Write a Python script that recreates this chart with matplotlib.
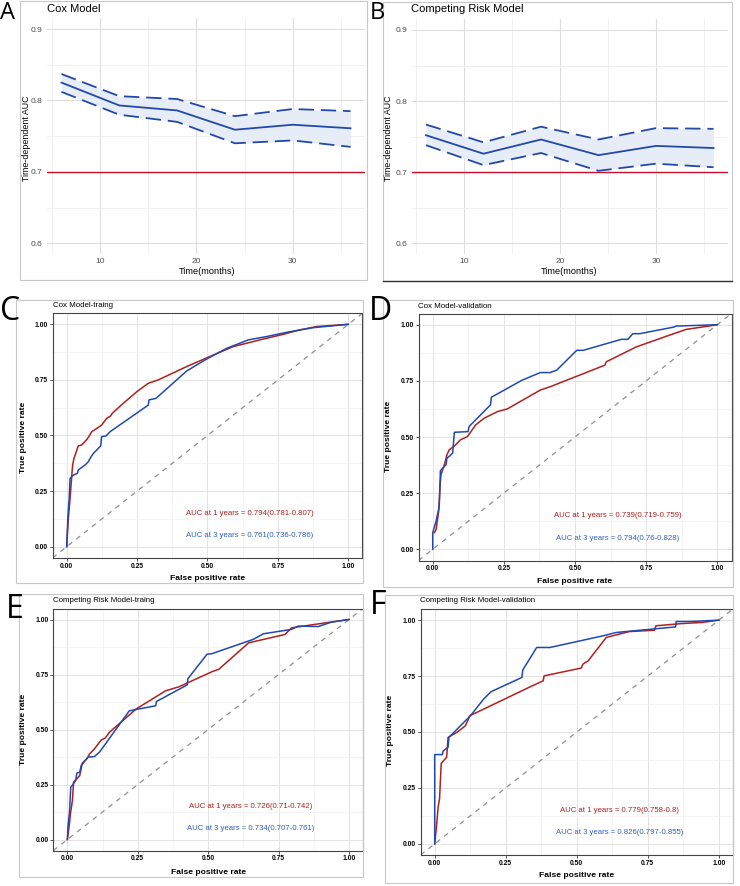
import matplotlib
matplotlib.use("Agg")
import matplotlib.pyplot as plt
from matplotlib.patches import Rectangle
from matplotlib.ticker import MultipleLocator

plt.rcParams['font.family'] = ['Liberation Sans', 'DejaVu Sans']

W, H = 740, 886

# time-dependent AUC (panels A, B)
months = [6, 12, 18, 24, 30, 36]
cox_auc = [0.825, 0.793, 0.786, 0.759, 0.766, 0.761]
cox_hi = [0.837, 0.806, 0.802, 0.778, 0.788, 0.785]
cox_lo = [0.812, 0.780, 0.770, 0.740, 0.744, 0.735]
crm_auc = [0.752, 0.726, 0.746, 0.724, 0.737, 0.734]
crm_hi = [0.767, 0.742, 0.764, 0.746, 0.762, 0.761]
crm_lo = [0.738, 0.710, 0.727, 0.702, 0.712, 0.707]

# ROC curves (panels C-F), 1 year (red) and 3 years (blue)
c1_fpr = [0, 0.006, 0.014, 0.021, 0.026, 0.041, 0.053, 0.073, 0.089, 0.107, 0.124, 0.142, 0.156, 0.162,
          0.201, 0.249, 0.29, 0.325, 0.426, 0.521, 0.592, 0.686, 0.769, 0.828, 0.888, 1]
c1_tpr = [0, 0.127, 0.25, 0.367, 0.397, 0.453, 0.457, 0.484, 0.517, 0.532, 0.547, 0.577, 0.588, 0.6,
          0.645, 0.697, 0.735, 0.75, 0.81, 0.862, 0.9, 0.93, 0.955, 0.975, 0.99, 1]
c3_fpr = [0, 0.004, 0.009, 0.012, 0.024, 0.038, 0.041, 0.065, 0.077, 0.083, 0.095, 0.107, 0.121, 0.124,
          0.14, 0.154, 0.29, 0.292, 0.317, 0.426, 0.497, 0.568, 0.645, 0.71, 0.781, 0.876, 1]
c3_tpr = [0, 0.127, 0.217, 0.307, 0.322, 0.33, 0.345, 0.367, 0.382, 0.397, 0.42, 0.435, 0.454, 0.495,
          0.498, 0.517, 0.637, 0.66, 0.667, 0.79, 0.844, 0.892, 0.93, 0.945, 0.964, 0.985, 1]

d1_fpr = [0.006, 0.012, 0.021, 0.026, 0.029, 0.041, 0.05, 0.058, 0.078, 0.097, 0.122, 0.134, 0.151, 0.18,
          0.227, 0.262, 0.378, 0.413, 0.605, 0.61, 0.715, 0.831, 0.89, 0.948, 1]
d1_tpr = [0.074, 0.089, 0.17, 0.288, 0.332, 0.377, 0.421, 0.443, 0.462, 0.487, 0.502, 0.524, 0.554, 0.583,
          0.613, 0.625, 0.709, 0.724, 0.82, 0.835, 0.901, 0.953, 0.979, 0.99, 1]
d3_fpr = [0, 0, 0.012, 0.023, 0.027, 0.047, 0.05, 0.058, 0.07, 0.076, 0.124, 0.128, 0.203, 0.206, 0.314,
          0.378, 0.413, 0.436, 0.506, 0.529, 0.663, 0.686, 0.703, 0.727, 0.849, 0.855, 1]
d3_tpr = [0, 0.074, 0.126, 0.192, 0.35, 0.377, 0.406, 0.414, 0.428, 0.521, 0.524, 0.547, 0.643, 0.677,
          0.753, 0.787, 0.787, 0.798, 0.886, 0.886, 0.935, 0.935, 0.96, 0.96, 0.99, 0.994, 1]

e1_fpr = [0, 0.006, 0.011, 0.018, 0.022, 0.034, 0.044, 0.053, 0.069, 0.079, 0.096, 0.12, 0.135, 0.149,
          0.244, 0.349, 0.396, 0.514, 0.538, 0.644, 0.773, 0.796, 0.891, 1]
e1_tpr = [0, 0.057, 0.118, 0.178, 0.261, 0.276, 0.291, 0.347, 0.367, 0.389, 0.412, 0.452, 0.462, 0.487,
          0.593, 0.676, 0.694, 0.763, 0.774, 0.894, 0.932, 0.962, 0.98, 1]
e3_fpr = [0, 0.002, 0.008, 0.012, 0.02, 0.029, 0.034, 0.044, 0.049, 0.073, 0.096, 0.114, 0.22, 0.314,
          0.316, 0.426, 0.428, 0.496, 0.514, 0.661, 0.696, 0.796, 0.82, 0.891, 0.938, 1]
e3_tpr = [0, 0.057, 0.133, 0.238, 0.25, 0.268, 0.302, 0.306, 0.336, 0.374, 0.377, 0.397, 0.585, 0.608,
          0.627, 0.703, 0.731, 0.842, 0.845, 0.91, 0.935, 0.955, 0.97, 0.968, 0.988, 1]

f1_fpr = [0, 0.006, 0.012, 0.017, 0.023, 0.042, 0.047, 0.079, 0.108, 0.124, 0.336, 0.382, 0.385, 0.516,
          0.522, 0.54, 0.604, 0.685, 0.773, 0.779, 0.872, 0.942, 1]
f1_tpr = [0, 0.074, 0.164, 0.201, 0.36, 0.387, 0.476, 0.499, 0.528, 0.573, 0.702, 0.729, 0.751, 0.786,
          0.804, 0.818, 0.923, 0.949, 0.955, 0.975, 0.985, 0.99, 1]
f3_fpr = [0, 0, 0.027, 0.029, 0.047, 0.05, 0.126, 0.172, 0.198, 0.307, 0.31, 0.359, 0.406, 0.592, 0.639,
          0.848, 0.85, 0.895, 1]
f3_tpr = [0, 0.399, 0.399, 0.414, 0.432, 0.476, 0.573, 0.647, 0.68, 0.744, 0.777, 0.878, 0.878, 0.93,
          0.945, 0.97, 0.994, 0.994, 1]

auc_text = {
    'C': ["AUC at 1 years = 0.794(0.781-0.807)", "AUC at 3 years = 0.761(0.736-0.786)"],
    'D': ["AUC at 1 years = 0.739(0.719-0.759)", "AUC at 3 years = 0.794(0.76-0.828)"],
    'E': ["AUC at 1 years = 0.726(0.71-0.742)", "AUC at 3 years = 0.734(0.707-0.761)"],
    'F': ["AUC at 1 years = 0.779(0.758-0.8)", "AUC at 3 years = 0.826(0.797-0.855)"],
}

RED = '#b0201e'
BLUE = '#1f49b0'
LINE_BLUE = '#2348a8'

fig = plt.figure(figsize=(W / 100, H / 100), dpi=100)


def rect(x0, y0, x1, y1):
    return [x0 / W, 1 - y1 / H, (x1 - x0) / W, (y1 - y0) / H]


def ftext(x, y, s, **kw):
    fig.text(x / W, 1 - y / H, s, **kw)


def box(x0, y0, x1, y1, color='#c8c8c8', lw=0.8):
    fig.add_artist(Rectangle((x0 / W, 1 - y1 / H), (x1 - x0) / W, (y1 - y0) / H,
                             transform=fig.transFigure, fill=False, ec=color, lw=lw))


def auc_panel(r, t, auc, lo, hi):
    ax = fig.add_axes(r)
    ax.fill_between(t, lo, hi, color='#e7edf7', lw=0)
    ax.plot(t, auc, color=LINE_BLUE, lw=1.3)
    ax.plot(t, lo, color=LINE_BLUE, lw=1.3, ls=(0, (8.5, 3.8)))
    ax.plot(t, hi, color=LINE_BLUE, lw=1.3, ls=(0, (8.5, 3.8)))
    ax.axhline(0.7, color='#c8102e', lw=1.0)
    ax.set_xlim(4.5, 37.5)
    ax.set_ylim(0.585, 0.915)
    ax.xaxis.set_major_locator(MultipleLocator(10))
    ax.xaxis.set_minor_locator(MultipleLocator(5))
    ax.yaxis.set_major_locator(MultipleLocator(0.1))
    ax.yaxis.set_minor_locator(MultipleLocator(0.05))
    ax.grid(which='major', color='#dedede', lw=0.8)
    ax.grid(which='minor', color='#eeeeee', lw=0.6)
    ax.set_axisbelow(True)
    for s in ax.spines.values():
        s.set_visible(False)
    ax.tick_params(which='both', length=0, labelsize=6, labelcolor='#4d4d4d', pad=3)
    ax.set_xticks([10, 20, 30])
    ax.set_yticks([0.6, 0.7, 0.8, 0.9])
    ax.set_yticklabels(['0.6', '0.7', '0.8', '0.9'])
    return ax


def roc_panel(r, f1, t1, f3, t3, texts):
    ax = fig.add_axes(r)
    ax.plot([-0.05, 1.05], [-0.05, 1.05], color='#8f8f8f', lw=0.9, ls=(0, (4, 4)))
    ax.plot(f1, t1, color=RED, lw=1.1)
    ax.plot(f3, t3, color=BLUE, lw=1.1)
    ax.set_xlim(-0.05, 1.05)
    ax.set_ylim(-0.05, 1.05)
    ticks = [0, 0.25, 0.5, 0.75, 1.0]
    labs = ['0.00', '0.25', '0.50', '0.75', '1.00']
    ax.set_xticks(ticks)
    ax.set_xticklabels(labs)
    ax.set_yticks(ticks)
    ax.set_yticklabels(labs)
    ax.xaxis.set_minor_locator(MultipleLocator(0.125))
    ax.yaxis.set_minor_locator(MultipleLocator(0.125))
    ax.grid(which='major', color='#e3e3e3', lw=0.7)
    ax.grid(which='minor', color='#f1f1f1', lw=0.5)
    ax.set_axisbelow(True)
    for s in ax.spines.values():
        s.set_color('#444444')
        s.set_linewidth(0.8)
    ax.tick_params(which='major', length=2, width=0.6, color='#333333', labelsize=4.9, pad=1.5)
    ax.tick_params(which='minor', length=0)
    for lab in ax.get_xticklabels() + ax.get_yticklabels():
        lab.set_fontweight('bold')
    ax.text(0.65, 0.15, texts[0], color=RED, fontsize=5.6, ha='center', va='center')
    ax.text(0.65, 0.05, texts[1], color='#2f5fc8', fontsize=5.6, ha='center', va='center')
    return ax


# outer frames
box(20, 1, 367, 280)
box(383, 2, 732, 281)
fig.add_artist(plt.Line2D([383 / W, 732 / W], [1 - 281 / H, 1 - 281 / H],
                          transform=fig.transFigure, color='#333333', lw=1.0))
box(16, 300, 363, 583)
box(383, 300, 733, 587)
box(19, 594, 363, 877)
box(385, 595, 733, 883)

# A, B
auc_panel(rect(47, 18.3, 365, 254), months, cox_auc, cox_lo, cox_hi)
auc_panel(rect(411.6, 19.3, 727.9, 254), months, crm_auc, crm_lo, crm_hi)
ftext(46.7, 8.5, "Cox Model", fontsize=8, va='center')
ftext(410.7, 9.5, "Competing Risk Model", fontsize=8, va='center')
for x, y in [(26.7, 138.3), (388.3, 138.3)]:
    ftext(x, y, "Time-dependent AUC", fontsize=6.4, rotation=90, ha='center', va='center')
for x, y in [(206.7, 271.7), (569.3, 271.3)]:
    ftext(x, y, "Time(months)", fontsize=6.6, ha='center', va='center')

# C-F
roc_panel(rect(52.6, 313.2, 362.4, 557.8), c1_fpr, c1_tpr, c3_fpr, c3_tpr, auc_text['C'])
roc_panel(rect(418.5, 313.5, 731.5, 560.5), d1_fpr, d1_tpr, d3_fpr, d3_tpr, auc_text['D'])
roc_panel(rect(53.3, 608.5, 363, 850.5), e1_fpr, e1_tpr, e3_fpr, e3_tpr, auc_text['E'])
roc_panel(rect(420.5, 609, 733, 855), f1_fpr, f1_tpr, f3_fpr, f3_tpr, auc_text['F'])

ftext(52.7, 305.7, "Cox Model-traing", fontsize=5.7, va='center')
ftext(417.7, 306, "Cox Model-validation", fontsize=5.7, va='center')
ftext(53.3, 600, "Competing Risk Model-traing", fontsize=5.7, va='center')
ftext(420, 601, "Competing Risk Model-validation", fontsize=5.7, va='center')

for x, y in [(208, 578.3), (575, 581.7), (208.8, 872.3), (577, 875.7)]:
    ftext(x, y, "False positive rate", fontsize=6.1, fontweight='bold', ha='center', va='center')
for x, y in [(24, 437), (388.3, 436.7), (24, 729), (390.7, 730.7)]:
    ftext(x, y, "True positive rate", fontsize=6.1, fontweight='bold', rotation=90,
          ha='center', va='center')

# panel letters
for s, x, y, fs in [('A', 0, 13, 17), ('B', 370, 13, 17), ('C', 0, 311.7, 23),
                    ('D', 369, 311.7, 23), ('E', 6, 609, 23), ('F', 370, 605, 23)]:
    ftext(x, y, s, fontsize=fs, va='center', ha='left', family=['Open Sans', 'DejaVu Sans'])

fig.savefig("out.png", dpi=100)
